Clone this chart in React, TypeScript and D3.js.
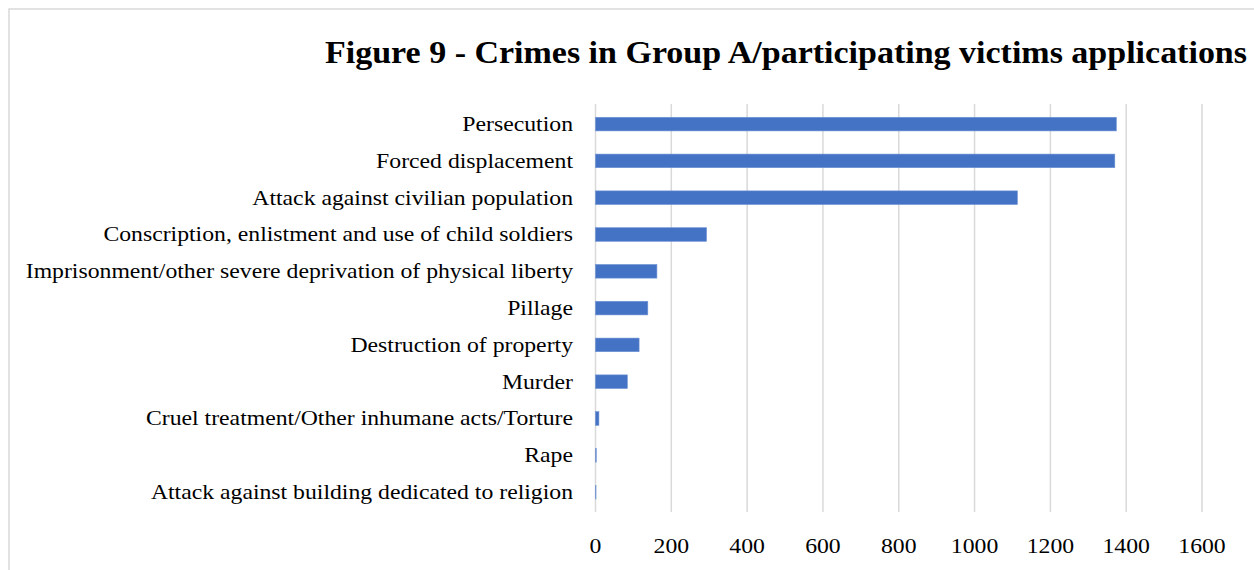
import React from "react";
import * as d3 from "d3";

const categories = [
  "Persecution",
  "Forced displacement",
  "Attack against civilian population",
  "Conscription, enlistment and use of child soldiers",
  "Imprisonment/other severe deprivation of physical liberty",
  "Pillage",
  "Destruction of property",
  "Murder",
  "Cruel treatment/Other inhumane acts/Torture",
  "Rape",
  "Attack against building dedicated to religion",
];
const values = [1374, 1370, 1113, 293, 162, 138, 115, 84, 9, 2, 1];
const xTicks = [0, 200, 400, 600, 800, 1000, 1200, 1400, 1600];
const title = "Figure 9 - Crimes in Group A/participating victims applications";

const W = 1254;
const H = 570;
const FONT = "'Liberation Serif', 'Times New Roman', serif";
const STRETCH = 1.13;

export default function App() {
  const x = d3.scaleLinear().domain([0, 1600]).range([595.5, 1202]);
  const y = d3.scaleBand<string>().domain(categories).range([105.7, 510.5]).padding(0);
  const bw = y.bandwidth();
  const barH = bw * 0.37;
  return (
    <svg
      width={W}
      height={H}
      style={{ position: "absolute", left: 0, top: 0, background: "#fff" }}
    >
      <rect x={0} y={0} width={W} height={H} fill="#fff" />
      <rect x={9} y={9} width={W + 20} height={H + 20} fill="#fff" stroke="#d9d9d9" strokeWidth={1.5} />
      <text
        x={325}
        y={63}
        fontFamily={FONT}
        fontWeight="bold"
        fontSize={31}
        fill="#000"
        textLength={922}
        lengthAdjust="spacingAndGlyphs"
      >
        {title}
      </text>
      {xTicks.map((t) => (
        <line key={"g" + t} x1={x(t)} x2={x(t)} y1={104} y2={512} stroke="#d9d9d9" strokeWidth={1.5} />
      ))}
      {categories.map((c, i) => (
        <rect
          key={"b" + c}
          x={x(0)}
          y={(y(c) as number) + bw / 2 - barH / 2}
          width={Math.max(0.5, x(values[i]) - x(0))}
          height={barH}
          fill="#4472c4"
          stroke="#6f93d3"
          strokeWidth={0.6}
        />
      ))}
      {categories.map((c) => (
        <g key={"l" + c} transform={`translate(573,${(y(c) as number) + bw / 2}) scale(${STRETCH},1)`}>
          <text dy="0.33em" textAnchor="end" fontFamily={FONT} fontSize={21} fill="#000">
            {c}
          </text>
        </g>
      ))}
      {xTicks.map((t) => (
        <g key={"t" + t} transform={`translate(${x(t)},553) scale(${STRETCH},1)`}>
          <text textAnchor="middle" fontFamily={FONT} fontSize={21} fill="#000">
            {t}
          </text>
        </g>
      ))}
    </svg>
  );
}
